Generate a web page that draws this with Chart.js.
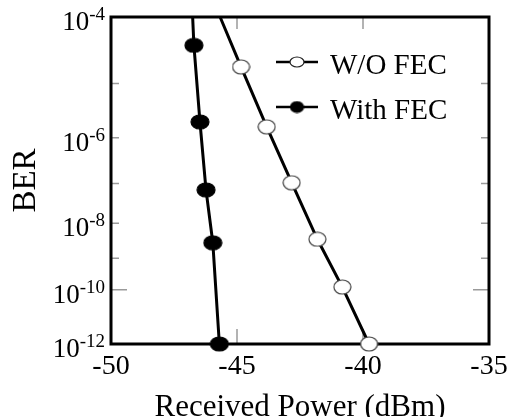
<!DOCTYPE html>
<html>
<head>
<meta charset="utf-8">
<script src="https://cdn.jsdelivr.net/npm/chart.js@4.4.1/dist/chart.umd.min.js"></script>
<style>
  html, body { margin: 0; padding: 0; background: #fff; }
  #wrap { width: 509px; height: 417px; }
</style>
</head>
<body>
<div id="wrap"><canvas id="grafico"></canvas></div>
<script>
// valores (potência em dBm, BER como expoente de 10)
const potenciaSemFec = [-45.67, -44.84, -43.82, -42.83, -41.81, -40.82, -39.76];
const berSemFec = [-4, -4.73, -5.785, -6.98, -8.44, -9.91, -12];
const potenciaComFec = [-46.76, -46.71, -46.47, -46.23, -45.96, -45.70];
const berComFec = [-4, -4.40, -5.69, -7.15, -8.54, -12];
const rotulos = ["W/O FEC", "With FEC"];
const ticksY = [-4, -6, -8, -10, -12];      // rótulos 10^n do eixo BER
const ticksMenoresY = [-5, -6, -7, -8, -9, -10];
const ticksInternosX = [-45, -40];

const fonte = '"Liberation Serif", "Times New Roman", serif';

// eixo BER: escala em log10(-log10(BER))
const q = (e) => Math.log10(-e);

// marcador elíptico (como no original)
const elipse = (w, h, preenchimento, borda) => {
    const c = document.createElement("canvas");
    c.width = w + 2;
    c.height = h + 2;
    const g = c.getContext("2d");
    g.beginPath();
    g.ellipse(c.width / 2, c.height / 2, w / 2, h / 2, 0, 0, Math.PI * 2);
    g.fillStyle = preenchimento;
    g.fill();
    g.lineWidth = 1.2;
    g.strokeStyle = borda;
    g.stroke();
    return c;
};

const marcaAberta = elipse(17, 14, "#fff", "#444");
const marcaCheia = elipse(18, 14, "#000", "#000");
const legAberta = elipse(14, 10, "#fff", "#222");
const legCheia = elipse(13, 11, "#000", "#000");

// só o primeiro ponto (extensão da reta até o topo) fica sem marcador
const raios = (n) => Array.from({ length: n }, (_, i) => (i === 0 ? 0 : 8));

const moldura = {
    id: "moldura",
    beforeDatasetsDraw(chart) {
        const { ctx, chartArea: a, scales: { x, y } } = chart;
        ctx.save();
        ctx.strokeStyle = "#9a9a9a";
        ctx.lineWidth = 1.5;
        ctx.beginPath();
        ticksMenoresY.forEach((e) => {
            const py = y.getPixelForValue(q(e));
            const len = e === -10 ? 16 : 8;
            ctx.moveTo(a.left, py); ctx.lineTo(a.left + len, py);
            ctx.moveTo(a.right, py); ctx.lineTo(a.right - len, py);
        });
        ticksInternosX.forEach((v) => {
            const px = x.getPixelForValue(v);
            ctx.moveTo(px, a.top); ctx.lineTo(px, a.top + 12);
            ctx.moveTo(px, a.bottom); ctx.lineTo(px, a.bottom - 15);
        });
        ctx.stroke();

        ctx.strokeStyle = "#000";
        ctx.lineWidth = 3;
        ctx.strokeRect(a.left, a.top, a.right - a.left, a.bottom - a.top);

        // rótulos 10^n
        ctx.fillStyle = "#000";
        ctx.textAlign = "right";
        ctx.textBaseline = "alphabetic";
        ticksY.forEach((e) => {
            const py = y.getPixelForValue(q(e));
            const exp = String(e);
            ctx.font = "19px " + fonte;
            const w = ctx.measureText(exp).width;
            ctx.fillText(exp, 105, py + 3);
            ctx.font = "27px " + fonte;
            ctx.fillText("10", 105 - w, py + 13);
        });
        ctx.restore();
    },
    afterDatasetsDraw(chart) {
        // legenda dentro da área do gráfico
        const { ctx } = chart;
        const itens = [
            { y: 62, marca: legAberta, texto: chart.data.datasets[0].label, base: 74 },
            { y: 107, marca: legCheia, texto: chart.data.datasets[1].label, base: 119 }
        ];
        ctx.save();
        itens.forEach((it) => {
            ctx.strokeStyle = "#000";
            ctx.lineWidth = 2.5;
            ctx.beginPath();
            ctx.moveTo(276, it.y);
            ctx.lineTo(318, it.y);
            ctx.stroke();
            ctx.drawImage(it.marca, 297 - it.marca.width / 2, it.y - it.marca.height / 2);
            ctx.fillStyle = "#000";
            ctx.font = "29px " + fonte;
            ctx.textAlign = "left";
            ctx.textBaseline = "alphabetic";
            ctx.fillText(it.texto, 330, it.base);
        });
        ctx.restore();
    }
};

new Chart(document.getElementById("grafico"), {
    type: "line",
    data: {
        datasets: [
            {
                label: rotulos[0],
                data: potenciaSemFec.map((p, i) => ({ x: p, y: q(berSemFec[i]) })),
                borderColor: "#000",
                borderWidth: 3,
                pointStyle: marcaAberta,
                pointRadius: raios(potenciaSemFec.length),
                clip: false,
                tension: 0
            },
            {
                label: rotulos[1],
                data: potenciaComFec.map((p, i) => ({ x: p, y: q(berComFec[i]) })),
                borderColor: "#000",
                borderWidth: 3,
                pointStyle: marcaCheia,
                pointRadius: raios(potenciaComFec.length),
                clip: false,
                tension: 0
            }
        ]
    },
    options: {
        responsive: true,
        maintainAspectRatio: false,
        animation: false,
        events: [],
        layout: { padding: { top: 17, right: 20, left: 0, bottom: 0 } },
        plugins: {
            legend: { display: false },
            tooltip: { enabled: false }
        },
        scales: {
            x: {
                type: "linear",
                min: -50,
                max: -35,
                grid: { display: false, drawTicks: false },
                border: { display: false },
                ticks: {
                    stepSize: 5,
                    maxRotation: 0,
                    autoSkip: false,
                    padding: 6,
                    color: "#000",
                    font: { family: fonte, size: 28 }
                },
                title: {
                    display: true,
                    text: "Received Power (dBm)",
                    color: "#000",
                    font: { family: fonte, size: 31, lineHeight: 0.6 },
                    padding: { top: 0, bottom: 0 }
                },
                afterFit: (s) => {
                    s.height = 73;
                    s.paddingLeft = 0;
                    s.paddingRight = 0;
                }
            },
            y: {
                type: "linear",
                reverse: true,
                min: q(ticksY[0]),
                max: q(ticksY[ticksY.length - 1]),
                grid: { display: false, drawTicks: false },
                border: { display: false },
                ticks: { display: false },
                afterBuildTicks: (s) => { s.ticks = ticksY.map((e) => ({ value: q(e) })); },
                title: {
                    display: true,
                    text: "BER",
                    color: "#000",
                    font: { family: fonte, size: 33, lineHeight: 1 },
                    padding: { top: 10, bottom: 0 }
                },
                afterFit: (s) => { s.width = 111; }
            }
        }
    },
    plugins: [moldura]
});
</script>
</body>
</html>
